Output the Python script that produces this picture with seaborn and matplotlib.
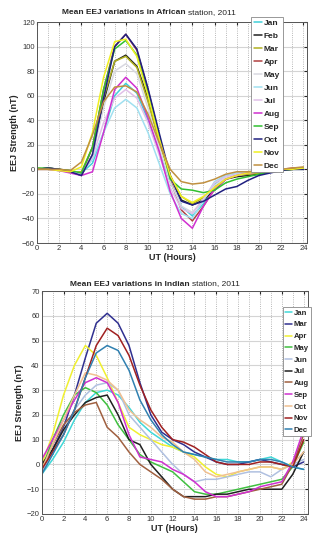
import numpy as np
import pandas as pd
import matplotlib
matplotlib.use("Agg")
import matplotlib.pyplot as plt
from matplotlib.ticker import MultipleLocator
from matplotlib import font_manager
import seaborn as sns

sns.set_style("white")
_names = {f.name for f in font_manager.fontManager.ttflist}
NARROW = "Liberation Sans Narrow" in _names
if NARROW:
    plt.rcParams['font.family'] = ['Liberation Sans Narrow', 'DejaVu Sans']
else:
    plt.rcParams['font.family'] = ['Liberation Sans', 'DejaVu Sans']
TITLE_FS = 7.0 if NARROW else 6.0

hours = list(range(25))

# African station (top)
af_months = ["Jan", "Feb", "Mar", "Apr", "May", "Jun", "Jul", "Aug", "Sep", "Oct", "Nov", "Dec"]
af_jan = [0, 1, 0, -2, -3, 5, 30, 60, 70, 62, 40, 15, -10, -30, -38, -28, -12, -5, -4, -3, -2, -1, 0, 0, 1]
af_feb = [0, 1, 0, -2, -5, 12, 55, 88, 93, 84, 58, 25, -5, -25, -29, -25, -17, -8, -6, -5, -4, -2, -1, 0, 0]
af_mar = [1, 0, -1, -2, -2, 18, 58, 88, 92, 83, 55, 22, -5, -22, -28, -23, -14, -8, -5, -4, -3, -2, -1, 0, 1]
af_apr = [0, 1, 0, -1, -4, 18, 65, 100, 110, 97, 65, 28, -8, -33, -42, -30, -16, -8, -5, -3, -2, -1, 0, 1, 1]
af_may = [0, 0, -1, -2, -4, 12, 50, 80, 86, 78, 50, 18, -10, -30, -35, -25, -13, -7, -5, -3, -2, -1, 0, 0, 1]
af_jun = [0, 0, -1, -2, -3, 8, 30, 50, 57, 50, 30, 5, -20, -36, -40, -25, -10, -5, -3, -2, -1, -1, 0, 0, 0]
af_jul = [0, 0, -1, -2, -3, 10, 38, 58, 65, 58, 38, 12, -15, -32, -36, -24, -11, -6, -4, -3, -2, -1, 0, 0, 1]
af_aug = [0, 0, -1, -3, -5, -2, 30, 65, 75, 66, 42, 15, -18, -40, -48, -30, -16, -8, -5, -3, -2, -1, 0, 0, 1]
af_sep = [1, 1, 0, -1, -3, 18, 65, 98, 105, 93, 62, 28, -8, -16, -17, -19, -17, -11, -8, -6, -4, -2, -1, 0, 1]
af_oct = [0, 1, 0, -2, -5, 12, 58, 100, 110, 98, 66, 30, -5, -26, -29, -26, -21, -16, -14, -9, -5, -3, -1, 0, 0]
af_nov = [0, 0, -1, -2, 2, 30, 75, 104, 106, 92, 60, 25, -5, -22, -27, -22, -15, -8, -5, -3, -2, -1, 0, 0, 1]
af_dec = [0, 0, 0, -1, 6, 28, 55, 67, 68, 63, 45, 22, 0, -10, -12, -11, -8, -4, -2, -2, -1, 0, 0, 1, 2]
af_values = [af_jan, af_feb, af_mar, af_apr, af_may, af_jun, af_jul, af_aug, af_sep, af_oct, af_nov, af_dec]
af_colors = ["#40d0d8", "#202020", "#b0b020", "#b04040", "#d8d8e0", "#a0e0f0",
             "#e0c0e8", "#d030d0", "#30c030", "#202080", "#f0f020", "#c09040"]

# Indian station (bottom)
in_months = ["Jan", "Mar", "Apr", "May", "Jun", "Jul", "Aug", "Sep", "Oct", "Nov", "Dec"]
in_jan = [-4, 2, 9, 18, 25, 29, 30, 28, 23, 17, 13, 10, 7, 5, 4, 3, 2, 2, 1, 1, 2, 3, 1, -1, -2]
in_mar = [-3, 6, 15, 28, 43, 57, 61, 57, 48, 33, 20, 13, 10, 8, 5, 3, 1, 0, 0, 1, 2, 1, 0, -1, 1]
in_apr = [0, 12, 28, 40, 48, 44, 35, 25, 15, 12, 10, 8, 7, 5, 3, -1, -4, -5, -3, -2, -1, -1, -2, 1, 9]
in_may = [-2, 10, 20, 28, 31, 29, 24, 16, 10, 4, 1, -1, -3, -7, -11, -12, -12, -11, -10, -9, -8, -7, -6, -1, 9]
in_jun = [-3, 5, 14, 22, 28, 32, 33, 30, 20, 15, 10, 5, 0, -4, -7, -6, -6, -5, -4, -3, -3, -5, -2, 0, 2]
in_jul = [0, 6, 14, 20, 25, 27, 28, 20, 10, 8, 0, -5, -10, -13, -13, -13, -12, -12, -11, -10, -10, -10, -10, -4, 5]
in_aug = [-2, 8, 16, 21, 24, 25, 15, 11, 5, 0, -3, -6, -10, -13, -14, -14, -13, -13, -12, -11, -10, -9, -8, 0, 12]
in_sep = [2, 10, 18, 26, 33, 35, 33, 25, 12, 3, 2, 1, -2, -4, -7, -11, -13, -13, -12, -11, -9, -8, -7, 1, 14]
in_oct = [-2, 8, 18, 28, 37, 36, 34, 30, 22, 18, 15, 11, 9, 5, 2, -3, -5, -4, -3, -2, -1, -1, -2, 0, 5]
in_nov = [-2, 5, 12, 22, 35, 48, 55, 52, 44, 32, 22, 15, 10, 9, 7, 4, 1, 0, 0, 0, 1, 1, 0, -1, 10]
in_dec = [-4, 4, 12, 22, 35, 45, 48, 46, 38, 26, 18, 12, 8, 5, 4, 3, 2, 1, 1, 1, 2, 2, 1, -1, -2]
in_values = [in_jan, in_mar, in_apr, in_may, in_jun, in_jul, in_aug, in_sep, in_oct, in_nov, in_dec]
in_colors = ["#40d8d8", "#303090", "#f0f030", "#40c040", "#b0c0e0", "#202020",
             "#a06040", "#d030d0", "#f0c090", "#a02020", "#3080b0"]

x_ticks = list(range(0, 25, 2))

W, H = 321, 543
fig = plt.figure(figsize=(W / 100, H / 100), dpi=100)
ax1 = fig.add_axes([37 / W, 1 - 243 / H, (307 - 37) / W, (243 - 22) / H])
ax2 = fig.add_axes([41.7 / W, 1 - 514 / H, (308 - 41.7) / W, (514 - 291) / H])


def draw(ax, months, values, colors, ylim, ystep, xmax):
    df = pd.DataFrame({
        "UT": np.tile(hours, len(months)),
        "EEJ": np.concatenate(values),
        "Month": np.repeat(months, len(hours)),
    })
    sns.lineplot(data=df, x="UT", y="EEJ", hue="Month", hue_order=months,
                 palette=dict(zip(months, colors)), ax=ax, linewidth=1.1, legend=False)
    ax.set_xlim(0, xmax)
    ax.set_ylim(*ylim)
    ax.set_xticks(x_ticks)
    ax.xaxis.set_minor_locator(MultipleLocator(1))
    ax.yaxis.set_major_locator(MultipleLocator(ystep))
    ax.grid(which="both", axis="x", linestyle=":", color="#a0a0a0", linewidth=0.6)
    ax.grid(which="major", axis="y", linestyle="-", color="#d4d4d4", linewidth=0.8)
    ax.set_axisbelow(True)
    ax.tick_params(which="both", direction="in", right=True, top=True, length=2,
                   labelsize=5.5, labelcolor="#333333", pad=1.5)
    ax.tick_params(which="minor", length=0)
    for s in ax.spines.values():
        s.set_color("#555555")
        s.set_linewidth(0.7)
    ax.set_xlabel("UT (Hours)", fontsize=6.5, fontweight="bold", labelpad=1)
    ax.set_ylabel("EEJ Strength (nT)", fontsize=6.5, fontweight="bold", labelpad=2)
    return ax.get_lines()[:len(months)]


h1 = draw(ax1, af_months, af_values, af_colors, (-60, 120), 20, 24.33)
h2 = draw(ax2, in_months, in_values, in_colors, (-20, 70), 10, 24.4)

leg1 = fig.legend(h1, af_months, loc="upper left", bbox_to_anchor=(251 / W, 1 - 16.5 / H),
                  prop={"weight": "bold", "size": 6}, handlelength=1.0,
                  handletextpad=0.25, labelspacing=0.62, borderpad=0.3, frameon=True,
                  fancybox=False, edgecolor="#888888", framealpha=1, borderaxespad=0)
leg1.get_frame().set_linewidth(0.6)
leg2 = fig.legend(h2, in_months, loc="upper left", bbox_to_anchor=(283 / W, 1 - 307 / H),
                  prop={"weight": "bold", "size": 5.6}, handlelength=0.9,
                  handletextpad=0.2, labelspacing=0.55, borderpad=0.3, frameon=True,
                  fancybox=False, edgecolor="#888888", framealpha=1, borderaxespad=0)
leg2.get_frame().set_linewidth(0.6)

# Titles: bold part + normal part
fig.text(186 / W, 1 - 13 / H, "Mean EEJ variations in African", fontsize=TITLE_FS,
         fontweight="bold", ha="right", va="center")
fig.text(188 / W, 1 - 13 / H, "station, 2011", fontsize=TITLE_FS, ha="left", va="center")
fig.text(190 / W, 1 - 284 / H, "Mean EEJ variations in Indian", fontsize=TITLE_FS,
         fontweight="bold", ha="right", va="center")
fig.text(192 / W, 1 - 284 / H, "station, 2011", fontsize=TITLE_FS, ha="left", va="center")

fig.savefig("out.png", dpi=100)
